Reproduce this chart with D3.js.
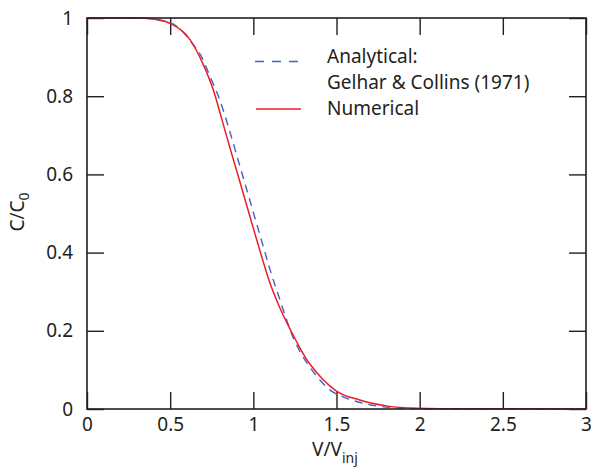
<!DOCTYPE html>
<html>
<head>
<meta charset="utf-8">
<script src="https://cdn.jsdelivr.net/npm/d3@7"></script>
<style>
  body { margin: 0; background: #fff; }
  svg text { font-family: "Noto Sans", sans-serif; fill: #231f20; }
</style>
</head>
<body>
<div id="chart"></div>
<script>
// values
const xTicks = [0, 0.5, 1, 1.5, 2, 2.5, 3];
const xTickLabels = ["0", "0.5", "1", "1.5", "2", "2.5", "3"];
const yTicks = [0, 0.2, 0.4, 0.6, 0.8, 1];
const yTickLabels = ["0", "0.2", "0.4", "0.6", "0.8", "1"];

// Analytical: Gelhar & Collins (1971)
const analyticalV = [0, 0.3, 0.5, 0.64, 0.69, 0.74, 0.79, 0.85, 0.9, 0.95, 1.0, 1.05, 1.1, 1.16, 1.2, 1.24, 1.29, 1.34, 1.4, 1.46, 1.54, 1.63, 1.74, 1.86, 2.0, 2.3, 3.0];
const analyticalC = [1, 1, 0.988, 0.931, 0.9, 0.85, 0.8, 0.722, 0.649, 0.576, 0.503, 0.43, 0.357, 0.279, 0.228, 0.182, 0.14, 0.107, 0.074, 0.049, 0.031, 0.018, 0.008, 0.003, 0.001, 0, 0];

// Numerical
const numericalV = [0, 0.3, 0.44, 0.5, 0.62, 0.7, 0.76, 0.81, 0.85, 0.9, 0.95, 1.0, 1.05, 1.1, 1.15, 1.2, 1.26, 1.31, 1.34, 1.42, 1.5, 1.64, 1.8, 1.98, 2.3, 3.0];
const numericalC = [1, 1, 0.995, 0.986, 0.944, 0.88, 0.815, 0.742, 0.682, 0.609, 0.536, 0.462, 0.39, 0.322, 0.268, 0.222, 0.172, 0.134, 0.115, 0.075, 0.046, 0.023, 0.008, 0.002, 0.0005, 0];

const width = 591, height = 476;
const margin = {top: 18, right: 5, bottom: 67, left: 87};

const svg = d3.select("#chart").append("svg")
    .attr("width", width)
    .attr("height", height);

const x = d3.scaleLinear().domain([0, 3]).range([margin.left, width - margin.right]);
const y = d3.scaleLinear().domain([0, 1]).range([height - margin.bottom, margin.top]);

const tickLen = 17;
const axisColor = "#231f20";

// inward ticks on all four sides
const axisBottomG = svg.append("g")
    .attr("transform", `translate(0,${y(0)})`)
    .call(d3.axisBottom(x).tickValues(xTicks).tickSize(-tickLen).tickPadding(9)
        .tickFormat((d, i) => xTickLabels[i]));
const axisTopG = svg.append("g")
    .attr("transform", `translate(0,${y(1)})`)
    .call(d3.axisTop(x).tickValues(xTicks).tickSize(-tickLen).tickFormat(""));
const axisLeftG = svg.append("g")
    .attr("transform", `translate(${x(0)},0)`)
    .call(d3.axisLeft(y).tickValues(yTicks).tickSize(-tickLen).tickPadding(14)
        .tickFormat((d, i) => yTickLabels[i]));
const axisRightG = svg.append("g")
    .attr("transform", `translate(${x(3)},0)`)
    .call(d3.axisRight(y).tickValues(yTicks).tickSize(-tickLen).tickFormat(""));

[axisBottomG, axisTopG, axisLeftG, axisRightG].forEach(g => {
    g.select(".domain").remove();
    g.selectAll(".tick line").attr("stroke", axisColor).attr("stroke-width", 1.4);
    g.selectAll(".tick text").style("font-size", "19px").attr("fill", axisColor);
});

// curves
const line = d3.line()
    .x(d => x(d[0]))
    .y(d => y(d[1]))
    .curve(d3.curveMonotoneX);

const analytical = analyticalV.map((v, i) => [v, analyticalC[i]]);
const numerical = numericalV.map((v, i) => [v, numericalC[i]]);

svg.append("path")
    .datum(analytical)
    .attr("d", line)
    .attr("fill", "none")
    .attr("stroke", "#3f63c0")
    .attr("stroke-width", 1.4)
    .attr("stroke-dasharray", "8,6");

svg.append("path")
    .datum(numerical)
    .attr("d", line)
    .attr("fill", "none")
    .attr("stroke", "#ee1c25")
    .attr("stroke-width", 1.5);

// frame
svg.append("rect")
    .attr("x", x(0)).attr("y", y(1))
    .attr("width", x(3) - x(0)).attr("height", y(0) - y(1))
    .attr("fill", "none").attr("stroke", axisColor).attr("stroke-width", 1.6);

// axis titles
const xTitle = svg.append("text")
    .attr("x", 335)
    .attr("y", 456)
    .attr("text-anchor", "middle")
    .style("font-size", "19px");
xTitle.append("tspan").text("V/V");
xTitle.append("tspan").attr("dy", 7).style("font-size", "14px").text("inj");

const yTitle = svg.append("text")
    .attr("transform", `translate(24,212) rotate(-90)`)
    .attr("text-anchor", "middle")
    .style("font-size", "19px");
yTitle.append("tspan").text("C/C");
yTitle.append("tspan").attr("dy", 5).style("font-size", "14px").text("0");

// legend
const legend = svg.append("g");
legend.append("line")
    .attr("x1", 255).attr("x2", 300).attr("y1", 61.5).attr("y2", 61.5)
    .attr("stroke", "#3f63c0").attr("stroke-width", 1.4)
    .attr("stroke-dasharray", "9,8");
legend.append("line")
    .attr("x1", 256).attr("x2", 301).attr("y1", 109).attr("y2", 109)
    .attr("stroke", "#ee1c25").attr("stroke-width", 1.5);
const legendLines = ["Analytical:", "Gelhar & Collins (1971)", "Numerical"];
const legendY = [63, 89, 115];
legend.selectAll("text.lg")
    .data(legendLines)
    .enter().append("text")
    .attr("class", "lg")
    .attr("x", 327)
    .attr("y", (d, i) => legendY[i])
    .style("font-size", "19px")
    .text(d => d);
</script>
</body>
</html>
